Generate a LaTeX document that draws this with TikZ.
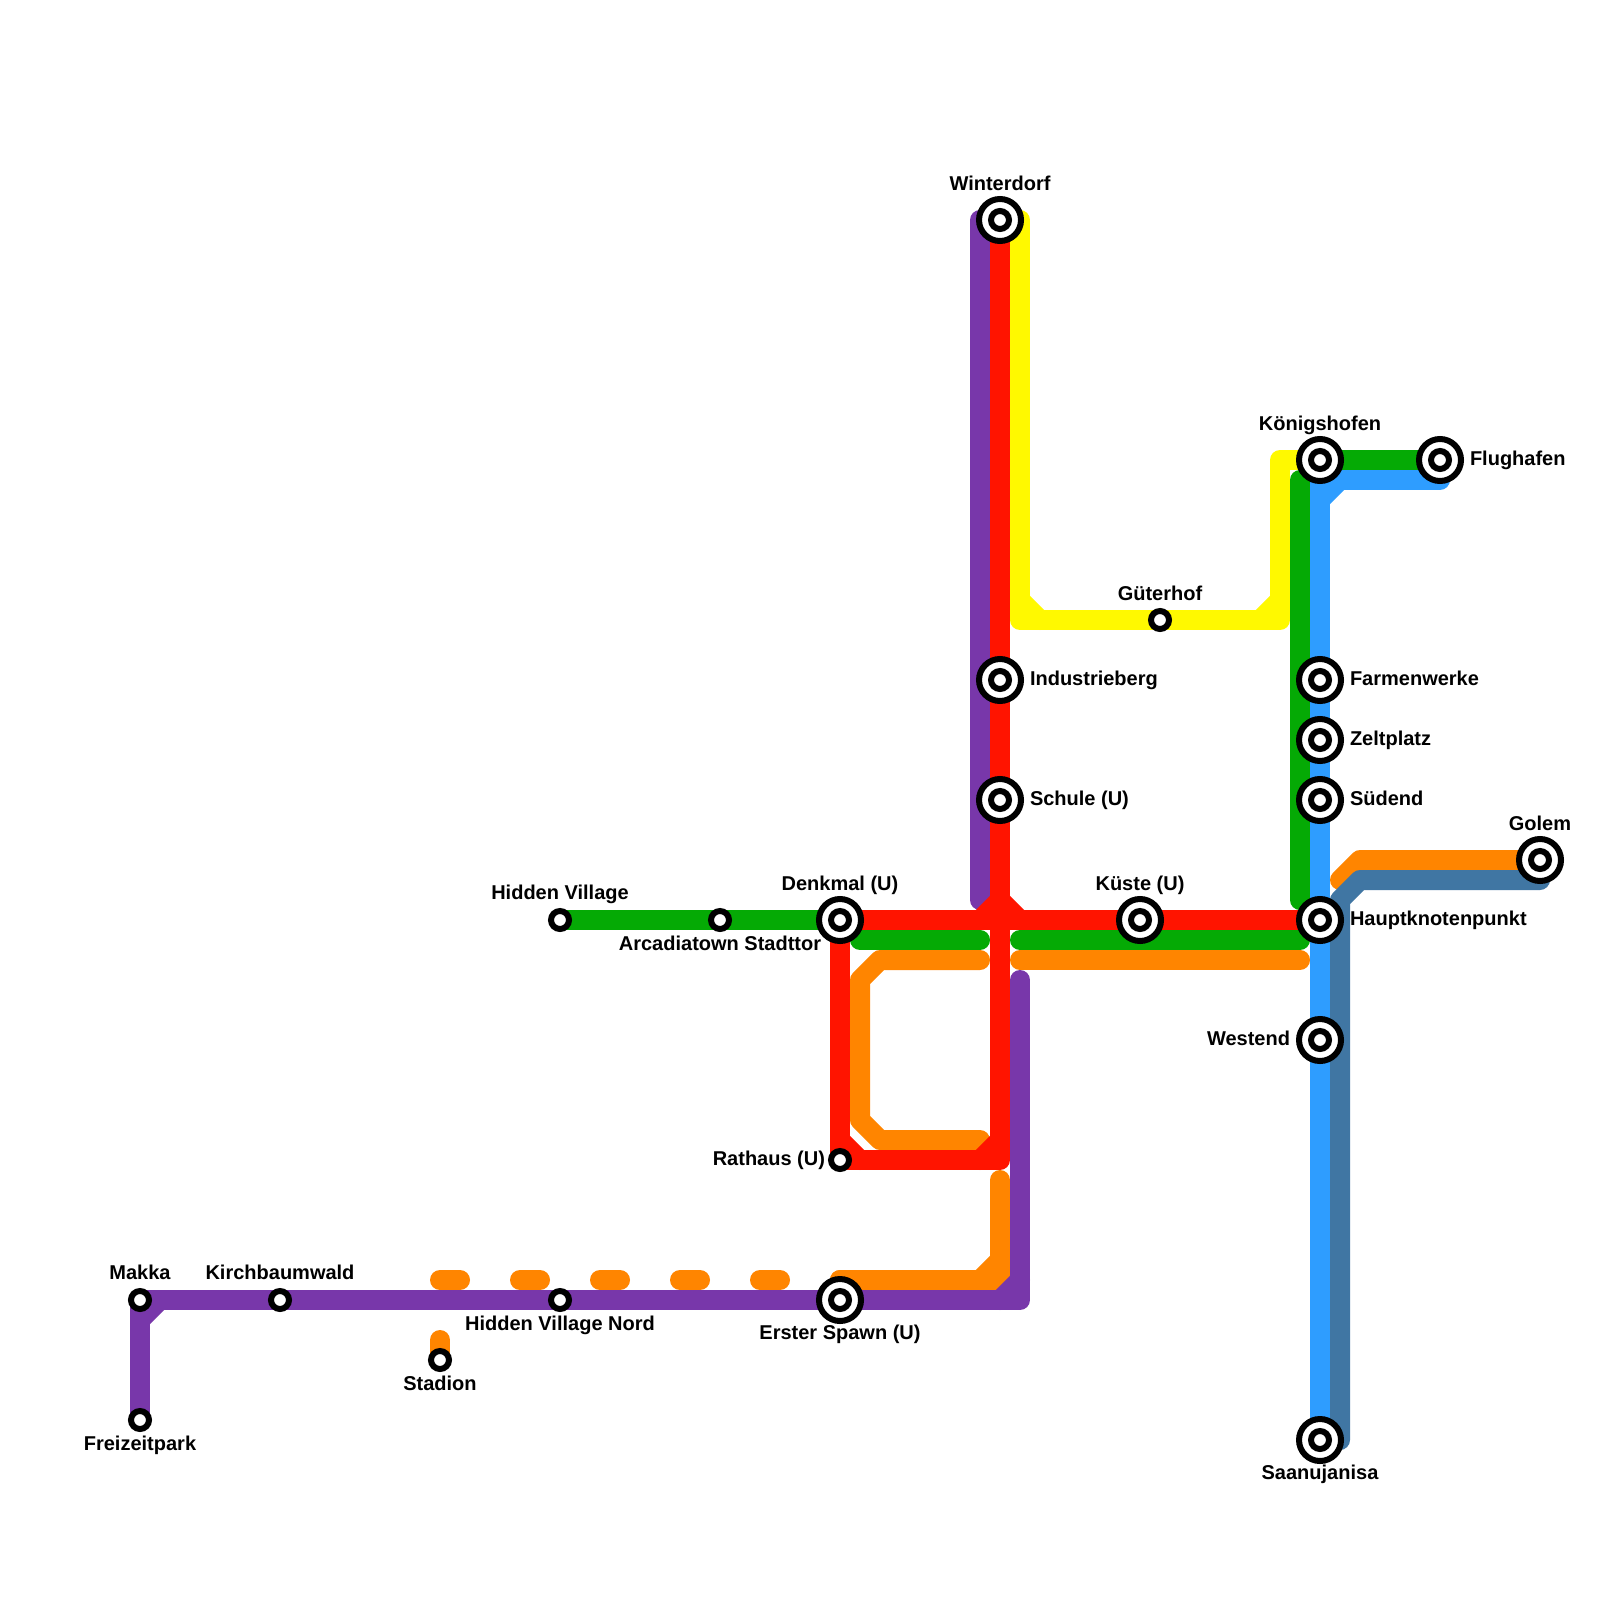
\documentclass[tikz,border=0pt]{standalone}
\usepackage{fontspec}
\setmainfont{Liberation Sans}
\pgfdeclarelayer{bg}
\pgfsetlayers{bg,main}
\definecolor{cpurple}{HTML}{7837AA}
\definecolor{cred}{HTML}{FF1400}
\definecolor{cgreen}{HTML}{05AA05}
\definecolor{corange}{HTML}{FF8500}
\definecolor{cyellow}{HTML}{FFF900}
\definecolor{cblue}{HTML}{2E9DFF}
\definecolor{csteel}{HTML}{4076A3}
\tikzset{
  metro/.style={line width=10pt,line cap=round,line join=round},
  bigst/.style={circle,draw=black,fill=white,line width=3pt,minimum size=21pt,inner sep=0pt,outer sep=0pt,
    path picture={\draw[black,line width=3pt] (path picture bounding box.center) circle (4.5pt);}},
  smallst/.style={circle,draw=black,fill=white,line width=3pt,minimum size=9pt,inner sep=0pt,outer sep=0pt},
  lbl/.style={font=\bfseries\fontsize{10pt}{12pt}\selectfont,inner sep=0pt,outer sep=0pt,text=black},
}
\begin{document}
\begin{tikzpicture}[x=0.5pt,y=-0.5pt]
\useasboundingbox (0,0) rectangle (1600,1600);
% stations
\node[bigst] (winter) at (1000,220) {};
\node[bigst] (indust) at (1000,680) {};
\node[bigst] (schule) at (1000,800) {};
\node[bigst] (denkmal) at (840,920) {};
\node[bigst] (kueste) at (1140,920) {};
\node[bigst] (haupt) at (1320,920) {};
\node[bigst] (koenig) at (1320,460) {};
\node[bigst] (flug) at (1440,460) {};
\node[bigst] (farm) at (1320,680) {};
\node[bigst] (zelt) at (1320,740) {};
\node[bigst] (sued) at (1320,800) {};
\node[bigst] (golem) at (1540,860) {};
\node[bigst] (west) at (1320,1040) {};
\node[bigst] (saan) at (1320,1440) {};
\node[bigst] (spawn) at (840,1300) {};
\node[smallst] (hidden) at (560,920) {};
\node[smallst] (arcadia) at (720,920) {};
\node[smallst] (gueter) at (1160,620) {};
\node[smallst] (rathaus) at (840,1160) {};
\node[smallst] (makka) at (140,1300) {};
\node[smallst] (kirch) at (280,1300) {};
\node[smallst] (hvn) at (560,1300) {};
\node[smallst] (stadion) at (440,1360) {};
\node[smallst] (freizeit) at (140,1420) {};
% labels
\node[lbl,anchor=base] (lwinter) at (1000,190) {Winterdorf};
\node[lbl,anchor=base] (lkoenig) at (1320,430) {Königshofen};
\node[lbl,anchor=base west] (lflug) at (1470,465) {Flughafen};
\node[lbl,anchor=base] (lgolem) at (1540,830) {Golem};
\node[lbl,anchor=base] (lgueter) at (1160,600) {Güterhof};
\node[lbl,anchor=base west] (lindust) at (1030,685) {Industrieberg};
\node[lbl,anchor=base west] (lschule) at (1030,805) {Schule (U)};
\node[lbl,anchor=base west] (lfarm) at (1350,685) {Farmenwerke};
\node[lbl,anchor=base west] (lzelt) at (1350,745) {Zeltplatz};
\node[lbl,anchor=base west] (lsued) at (1350,805) {Südend};
\node[lbl,anchor=base west] (lhaupt) at (1350,925) {Hauptknotenpunkt};
\node[lbl,anchor=base east] (lwest) at (1290,1045) {Westend};
\node[lbl,anchor=base] (lsaan) at (1320,1479) {Saanujanisa};
\node[lbl,anchor=base] (ldenkmal) at (840,890) {Denkmal (U)};
\node[lbl,anchor=base] (lkueste) at (1140,890) {Küste (U)};
\node[lbl,anchor=base] (lhidden) at (560,899) {Hidden Village};
\node[lbl,anchor=base] (larcadia) at (720,950) {Arcadiatown Stadttor};
\node[lbl,anchor=base east] (lrathaus) at (825,1165) {Rathaus (U)};
\node[lbl,anchor=base] (lmakka) at (140,1279) {Makka};
\node[lbl,anchor=base] (lkirch) at (280,1279) {Kirchbaumwald};
\node[lbl,anchor=base] (lhvn) at (560,1330) {Hidden Village Nord};
\node[lbl,anchor=base] (lspawn) at (840,1339) {Erster Spawn (U)};
\node[lbl,anchor=base] (lstadion) at (440,1390) {Stadion};
\node[lbl,anchor=base] (lfreizeit) at (140,1450) {Freizeitpark};
% corner and end coordinates
\coordinate (pTopA) at (980,220);
\coordinate (pEndA) at (980,900);
\coordinate (pTopB) at (1020,980);
\coordinate (pCornB) at (1020,1300);
\coordinate (yTop) at (1020,220);
\coordinate (yA) at (1020,620);
\coordinate (yB) at (1280,620);
\coordinate (yC) at (1280,460);
\coordinate (rCross) at (1000,920);
\coordinate (rCorn) at (1000,1160);
\coordinate (gA) at (860,940);
\coordinate (gB) at (980,940);
\coordinate (gC) at (1020,940);
\coordinate (gD) at (1300,940);
\coordinate (gE) at (1300,900);
\coordinate (gF) at (1300,480);
\coordinate (oA) at (980,960);
\coordinate (oB) at (880,960);
\coordinate (oC) at (860,980);
\coordinate (oD) at (860,1120);
\coordinate (oE) at (880,1140);
\coordinate (oF) at (980,1140);
\coordinate (oG) at (1020,960);
\coordinate (oH) at (1300,960);
\coordinate (oI) at (1000,1180);
\coordinate (oJ) at (1000,1280);
\coordinate (oK) at (840,1280);
\coordinate (oL) at (440,1280);
\coordinate (oM) at (1360,860);
\coordinate (oN) at (1340,880);
\coordinate (bA) at (1440,480);
\coordinate (bB) at (1320,480);
\coordinate (sA) at (1540,880);
\coordinate (sB) at (1360,880);
\coordinate (sC) at (1340,900);
\coordinate (sD) at (1340,1440);
\begin{pgfonlayer}{bg}
\fill[white] (0,0) rectangle (1600,1600);
% orange
\draw[metro,corange,dash pattern=on 10pt off 30pt] (stadion.center) -- (oL) -- (oK);
\draw[metro,corange] (oA) -- (oB) -- (oC) -- (oD) -- (oE) -- (oF);
\draw[metro,corange] (oG) -- (oH);
\draw[metro,corange] (oI) -- (oJ) -- (oK);
\draw[metro,corange] (oJ) +(0,-20) -- +(-20,0);
\draw[metro,corange] (golem.center) -- (oM) -- (oN);
% green
\draw[metro,cgreen] (hidden.center) -- (denkmal.center);
\draw[metro,cgreen] (gA) -- (gB);
\draw[metro,cgreen] (gC) -- (gD);
\draw[metro,cgreen] (koenig.center) -- (flug.center);
% yellow
\draw[metro,cyellow] (yTop) -- (yA) -- (yB) -- (yC) -- (koenig.center);
\draw[metro,cyellow] (yA) +(0,-20) -- +(20,0);
\draw[metro,cyellow] (yB) +(0,-20) -- +(-20,0);
\draw[metro,cgreen] (gF) -- (gE);
% blue
\draw[metro,cblue] (bA) -- (bB) -- (saan.center);
\draw[metro,cblue] (bB) +(20,0) -- +(0,20);
% steel
\draw[metro,csteel] (sA) -- (sB) -- (sC) -- (sD);
% purple
\draw[metro,cpurple] (pTopA) -- (pEndA);
\draw[metro,cpurple] (pTopB) -- (pCornB) -- (makka.center) -- (freizeit.center);
\draw[metro,cpurple] (pCornB) +(0,-20) -- +(-20,0);
\draw[metro,cpurple] (makka.center) +(20,0) -- +(0,20);
% red
\draw[metro,cred] (winter.center) -- (rCorn) -- (rathaus.center) -- (denkmal.center) -- (haupt.center);
\draw[metro,cred] (rCorn) +(0,-20) -- +(-20,0);
\draw[metro,cred] (rathaus.center) +(0,-20) -- +(20,0);
\draw[metro,cred] (rCross) +(0,-20) -- +(-20,0);
\draw[metro,cred] (rCross) +(0,-20) -- +(20,0);
\end{pgfonlayer}
\end{tikzpicture}
\end{document}
